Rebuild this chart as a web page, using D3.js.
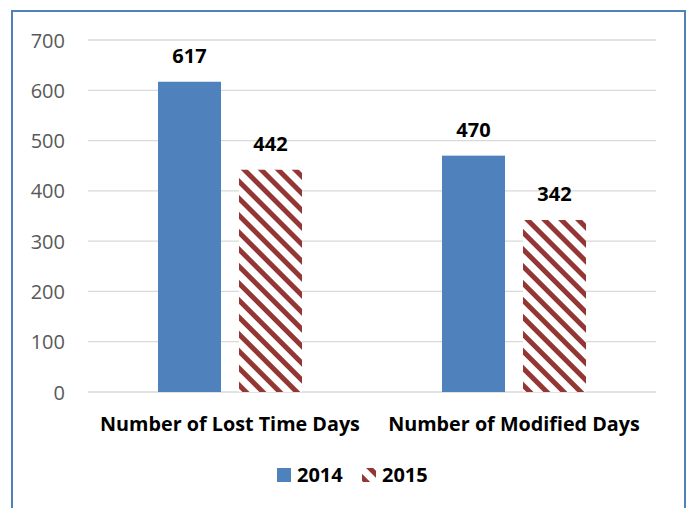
<!DOCTYPE html>
<html><head><meta charset="utf-8">
<script src="https://cdn.jsdelivr.net/npm/d3@7"></script>
<style>body{margin:0;background:#fff}svg{display:block}</style>
</head><body>
<script>
const categories = ["Number of Lost Time Days", "Number of Modified Days"];
const seriesNames = ["2014", "2015"];
const values2014 = [617, 470];
const values2015 = [442, 342];
const yTicks = [0, 100, 200, 300, 400, 500, 600, 700];

const W = 691, H = 508;
const font = "'Open Sans', sans-serif";
const svg = d3.select("body").append("svg").attr("width", W).attr("height", H);

const defs = svg.append("defs");
const pat = defs.append("pattern").attr("id", "stripe").attr("patternUnits", "userSpaceOnUse")
  .attr("width", 12).attr("height", 12).attr("patternTransform", "rotate(-45)");
pat.append("rect").attr("width", 12).attr("height", 12).attr("fill", "#fff");
pat.append("rect").attr("x", 0).attr("y", 0).attr("width", 5).attr("height", 12).attr("fill", "#943634");

svg.append("rect").attr("x", 12).attr("y", 11).attr("width", 673).attr("height", 520)
  .attr("fill", "none").attr("stroke", "#4F81BD").attr("stroke-width", 2);

const x0 = d3.scaleBand().domain(categories).range([88, 656]);
const x1 = d3.scaleBand().domain(seriesNames).range([0, x0.bandwidth()]).paddingInner(0.222).paddingOuter(0.864);
const y = d3.scaleLinear().domain([0, 700]).range([392, 40]);

svg.append("g").selectAll("line").data(yTicks).join("line")
  .attr("x1", 88).attr("x2", 656).attr("y1", d => y(d)).attr("y2", d => y(d))
  .attr("stroke", "#d9d9d9").attr("stroke-width", 1.3);

const yAxis = d3.axisLeft(y).tickValues(yTicks).tickSize(0).tickPadding(0);
const ya = svg.append("g").attr("transform", "translate(65,0)").call(yAxis);
ya.select(".domain").remove();
ya.selectAll("text").attr("font-family", font).attr("font-size", 20).attr("fill", "#595959").attr("dy", "0.35em");

const data = categories.map((c, i) => ({ c, vals: [{ s: "2014", v: values2014[i] }, { s: "2015", v: values2015[i] }] }));
const grp = svg.selectAll("g.cat").data(data).join("g").attr("class", "cat")
  .attr("transform", d => `translate(${x0(d.c)},0)`);
grp.selectAll("rect").data(d => d.vals).join("rect")
  .attr("x", d => x1(d.s)).attr("width", x1.bandwidth())
  .attr("y", d => y(d.v)).attr("height", d => y(0) - y(d.v))
  .attr("fill", d => d.s === "2014" ? "#4F81BD" : "url(#stripe)");
grp.selectAll("text").data(d => d.vals).join("text")
  .attr("x", d => x1(d.s) + x1.bandwidth() / 2).attr("y", d => y(d.v) - 19)
  .attr("text-anchor", "middle").attr("font-family", font).attr("font-weight", "bold")
  .attr("font-size", 20).attr("fill", "#000").text(d => d.v);

const xAxis = d3.axisBottom(x0).tickSize(0).tickPadding(0);
const xa = svg.append("g").attr("transform", "translate(0,424)").call(xAxis);
xa.select(".domain").remove();
xa.selectAll("text").attr("font-family", font).attr("font-weight", "bold").attr("font-size", 20)
  .attr("fill", "#000").attr("dy", "0.35em");
const t0 = xa.select("text").node();
const w0 = t0.getComputedTextLength();
xa.selectAll("text").attr("font-size", 20 * 260 / w0);

const legend = svg.append("g");
const lx = [277, 362];
seriesNames.forEach((s, i) => {
  legend.append("rect").attr("x", lx[i]).attr("y", 468).attr("width", 14).attr("height", 14)
    .attr("fill", s === "2014" ? "#4F81BD" : "url(#stripe)");
  legend.append("text").attr("x", lx[i] + 20).attr("y", 475).attr("dy", "0.35em")
    .attr("font-family", font).attr("font-weight", "bold").attr("font-size", 20).text(s);
});
</script>
</body></html>
